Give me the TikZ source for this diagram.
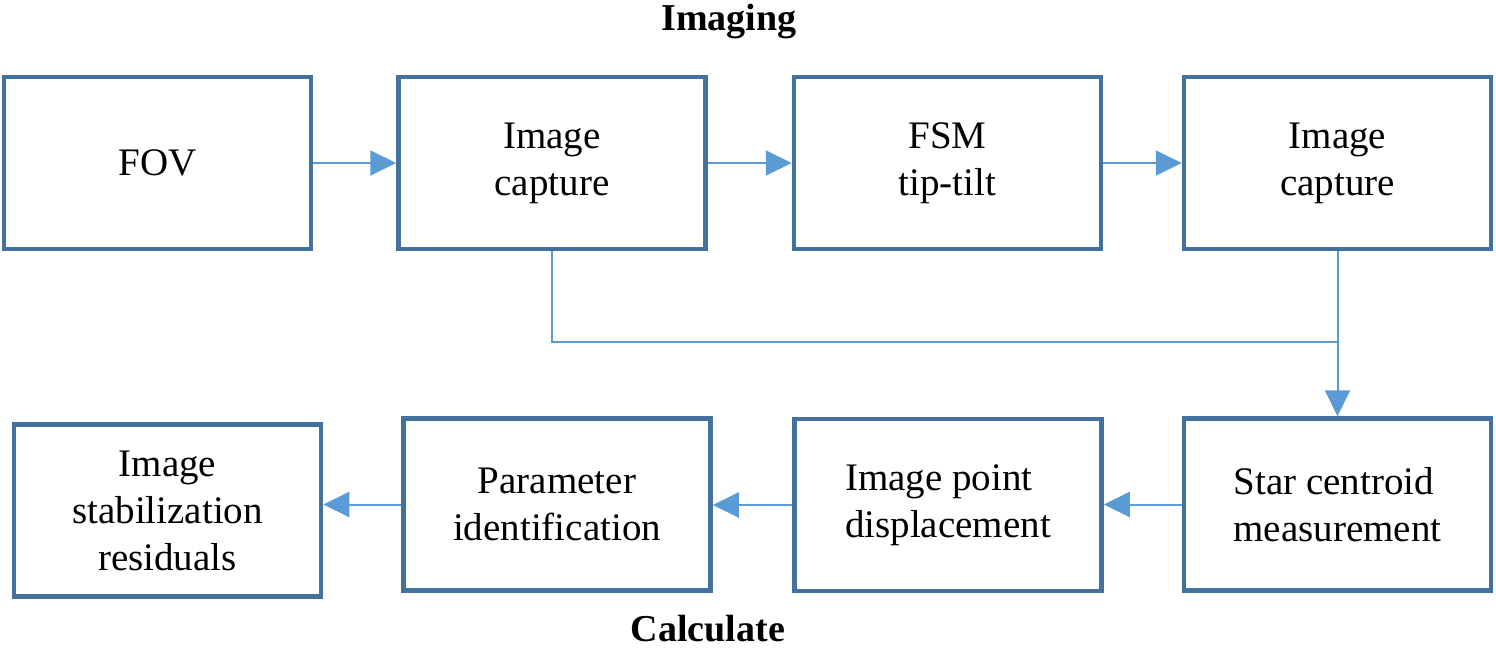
\documentclass[tikz,border=0pt]{standalone}
\usepackage{fontspec}
\setmainfont{Liberation Serif}
\usepackage{tikz}
\usetikzlibrary{arrows.meta,positioning,calc}
\usepackage{xcolor}
\definecolor{boxblue}{HTML}{41719C}
\definecolor{flowblue}{HTML}{5B9BD5}

\begin{document}
\begin{tikzpicture}[
    x=0.5pt,y=-0.5pt,>={Triangle[length=13pt,width=12.5pt]},
    stage/.style={draw=boxblue,line width=2.25pt,fill=white,minimum width=153.5pt,minimum height=86pt,align=center,inner sep=2pt,font=\fontsize{19.5}{23.5}\selectfont},
    flow/.style={->,draw=flowblue,line width=1pt},
    link/.style={draw=flowblue,line width=1pt},
    phase/.style={font=\fontsize{19}{23}\selectfont\bfseries,inner sep=0pt,anchor=base}
  ]
  \useasboundingbox (0,0) rectangle (1496,649);
  \node[phase] (imaging) at (729,30) {Imaging};
  \node[phase] (calc) at (708,641) {Calculate};
  % imaging row
  \node[stage] (fov)  at (157.5,163) {FOV};
  \node[stage] (cap1) at (552,163) {Image\\capture};
  \node[stage] (fsm)  at (947.5,163) {FSM\\tip-tilt};
  \node[stage] (cap2) at (1337.5,163) {Image\\capture};
  % calculation row
  \node[stage,align=left] (star) at (1337.5,504.5) {Star centroid\\measurement};
  \node[stage,align=left] (disp) at (948,505) {Image point\\displacement};
  \node[stage] (param) at (557,504.5) {Parameter\\identification};
  \node[stage] (resid) at (167.5,510.5) {Image\\stabilization\\residuals};
  \coordinate (join) at (1337.5,342);
  \draw[flow] (fov) -- (cap1);
  \draw[flow] (cap1) -- (fsm);
  \draw[flow] (fsm) -- (cap2);
  \draw[link] (cap1.south) |- (join);
  \draw[flow] (cap2.south) -- (star.north);
  \draw[flow] (star.west) -- (disp.east |- star.west);
  \draw[flow] (disp.west) -- (param.east |- disp.west);
  \draw[flow] (param.west) -- (resid.east |- param.west);
\end{tikzpicture}
\end{document}
